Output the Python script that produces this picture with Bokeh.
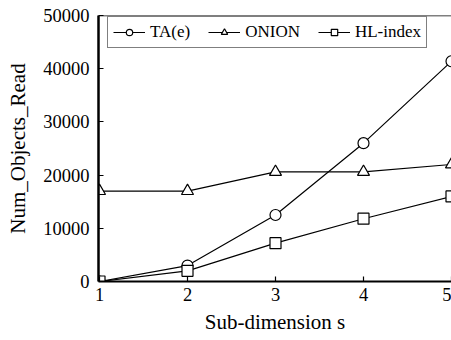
from bokeh.plotting import figure
from bokeh.models import Range1d, Legend, LegendItem, FixedTicker, Span
from bokeh.embed import file_html
from bokeh.resources import INLINE

s_values = [1, 2, 3, 4, 5]
ta_e = [0, 3000, 12500, 26000, 41400]
onion = [17000, 17000, 20600, 20600, 22000]
hl_index = [0, 2000, 7200, 11800, 16000]
x_ticks = [1, 2, 3, 4, 5]
y_ticks = [0, 10000, 20000, 30000, 40000, 50000]

FONT = "Liberation Serif"

p = figure(width=451, height=340, output_backend="svg", toolbar_location=None,
           x_range=Range1d(0.9886, 5.0), y_range=Range1d(0, 50000),
           min_border_left=98, min_border_right=0, min_border_top=15, min_border_bottom=59)
p.xgrid.visible = False
p.ygrid.visible = False
p.outline_line_color = None
p.background_fill_color = "white"
p.border_fill_color = "white"

for ax in (p.xaxis[0], p.yaxis[0]):
    ax.axis_line_color = "black"
    ax.axis_line_width = 2
    ax.major_tick_in = 5
    ax.major_tick_out = 0
    ax.minor_tick_line_color = None
    ax.major_tick_line_color = "black"
    ax.major_tick_line_width = 1.2
    ax.major_label_text_font = FONT
    ax.major_label_text_font_size = "18.5px"
    ax.major_label_text_font_style = "normal"
    ax.major_label_text_color = "black"
    ax.axis_label_text_font = FONT
    ax.axis_label_text_font_size = "21px"
    ax.axis_label_text_font_style = "normal"
    ax.axis_label_text_color = "black"

p.xaxis.ticker = FixedTicker(ticks=x_ticks)
p.yaxis.ticker = FixedTicker(ticks=y_ticks)
p.xaxis.axis_label = "Sub-dimension s"
p.yaxis.axis_label = "Num_Objects_Read"
p.xaxis.major_label_standoff = 6
p.yaxis.major_label_standoff = 9
p.xaxis.axis_label_standoff = 6
p.yaxis.axis_label_standoff = 10
p.yaxis.axis_line_width = 2.5

top_line = Span(location=50000, dimension="width", line_color="black", line_width=1.5)
p.add_layout(top_line)

series = [("TA(e)", ta_e, "circle"), ("ONION", onion, "triangle"), ("HL-index", hl_index, "square")]
items = []
for name, ys, mk in series:
    l = p.line(s_values, ys, line_color="black", line_width=1.2)
    sz = 11 if mk != "triangle" else 12
    m = p.scatter(s_values, ys, marker=mk, size=sz, fill_color="white", line_color="black", line_width=1.2)
    items.append(LegendItem(label=name, renderers=[l, m]))

legend = Legend(items=items, orientation="horizontal", location=(9, 233),
                label_text_font=FONT, label_text_font_size="17px", label_text_color="black",
                glyph_width=32, glyph_height=16, label_height=16, label_standoff=5, spacing=18,
                padding=5, margin=0,
                border_line_color="black", border_line_width=1.2,
                background_fill_alpha=1.0)
p.add_layout(legend, "center")

open("out.html", "w").write(file_html(p, INLINE))
